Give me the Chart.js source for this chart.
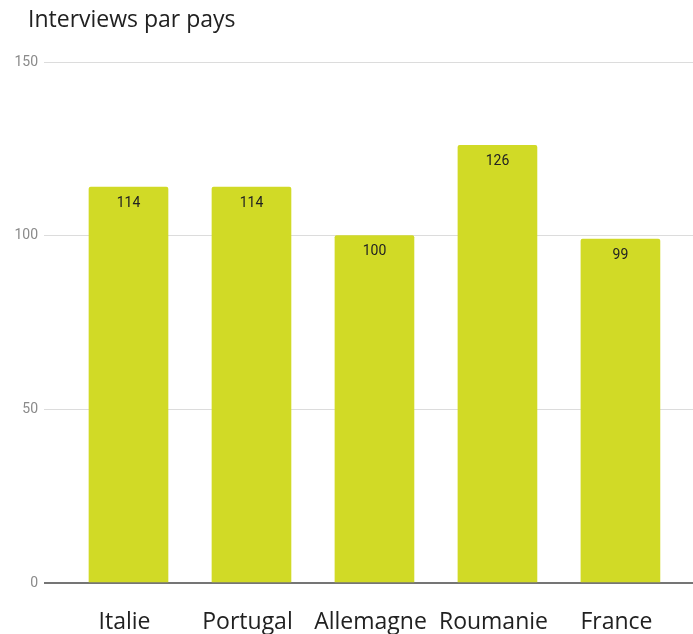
<!DOCTYPE html>
<html>
<head>
<meta charset="utf-8">
<script src="https://cdn.jsdelivr.net/npm/chart.js@4"></script>
<style>
  html, body { margin: 0; padding: 0; background: #fff; }
  #wrap { position: relative; width: 693px; height: 634px; }
  #titre {
    position: absolute; left: 28px; top: 7px;
    font-family: "Open Sans", sans-serif; font-size: 23px; line-height: 23px;
    color: #212121;
  }
</style>
</head>
<body>
<div id="wrap">
  <div id="titre">Interviews par pays</div>
  <canvas id="myChart" width="693" height="634"></canvas>
</div>
<script>
// Données
const pays = ['Italie', 'Portugal', 'Allemagne', 'Roumanie', 'France']
const interviews = [114, 114, 100, 126, 99]
const ticksY = [0, 50, 100, 150]

// Étiquette de valeur en haut de chaque barre
const valeurs = {
  id: 'valeurs',
  afterDatasetsDraw: chart => {
    const ctx = chart.ctx
    const meta = chart.getDatasetMeta(0)
    ctx.save()
    ctx.font = '14px Roboto'
    ctx.fillStyle = '#222'
    ctx.textAlign = 'center'
    ctx.textBaseline = 'middle'
    meta.data.forEach((bar, i) => {
      ctx.fillText(interviews[i], bar.x, bar.y + 16)
    })
    ctx.restore()
  }
}

const data = {
  datasets: [{
    data: interviews.map((v, i) => ({x: i, y: v})),
    backgroundColor: '#d1da26',
    borderRadius: 2,
    borderSkipped: 'bottom',
    barThickness: 79
  }]
}

const config = {
  type: 'bar',
  data: data,
  options: {
    responsive: false,
    animation: false,
    layout: { padding: { top: 62, right: 0, bottom: 0, left: 0 } },
    plugins: {
      legend: { display: false },
      tooltip: { enabled: false }
    },
    scales: {
      x: {
        type: 'linear',
        offset: false,
        min: -0.5,
        max: 4.59,
        afterBuildTicks: scale => { scale.ticks = pays.map((p, i) => ({value: i})) },
        grid: { display: false, drawTicks: false },
        border: { display: false },
        ticks: {
          autoSkip: false,
          maxRotation: 0,
          padding: 26,
          labelOffset: -4,
          color: '#212121',
          font: { family: 'Open Sans', size: 23 },
          callback: v => pays[v]
        },
        afterFit: scale => { scale.height = 51 }
      },
      y: {
        min: 0,
        max: 150,
        afterBuildTicks: scale => { scale.ticks = ticksY.map(v => ({value: v})) },
        grid: {
          color: c => c.tick && c.tick.value === 0 ? '#757575' : '#dcdcdc',
          tickColor: c => c.tick && c.tick.value === 0 ? '#757575' : '#dcdcdc',
          lineWidth: c => c.tick && c.tick.value === 0 ? 2 : 1,
          tickLength: 23
        },
        border: { display: false },
        ticks: {
          padding: 6,
          color: '#8a8a8a',
          font: { family: 'Roboto', size: 14 }
        },
        afterFit: scale => { scale.width = 67 }
      }
    }
  },
  plugins: [valeurs]
}

const myChart = new Chart(document.getElementById('myChart'), config)
</script>
</body>
</html>
